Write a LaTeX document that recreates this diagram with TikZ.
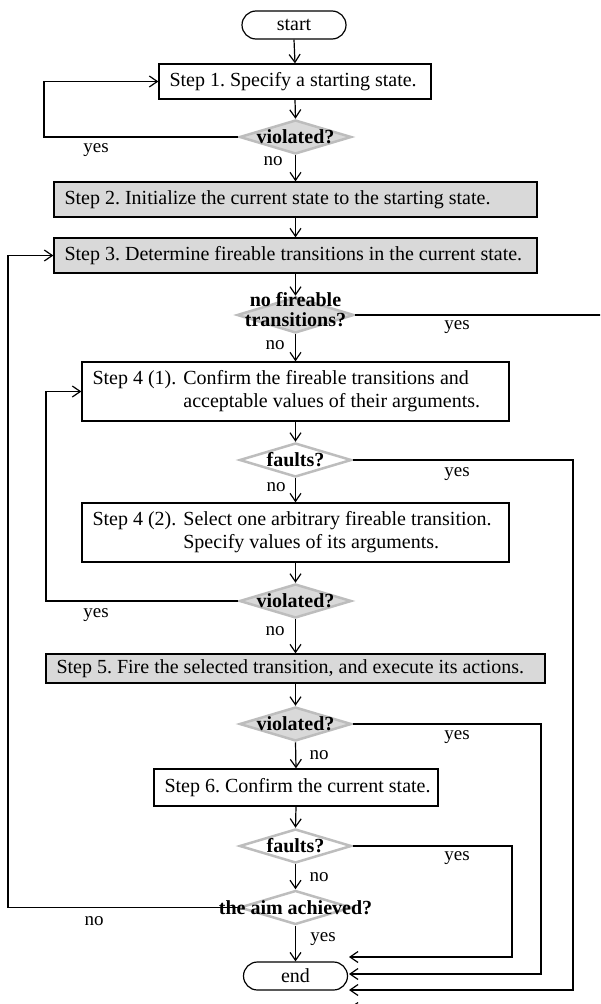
\documentclass[tikz,border=0pt]{standalone}
\usepackage{fontspec}
\setmainfont{Liberation Serif}
\usetikzlibrary{arrows.meta,shapes.geometric,calc}
\definecolor{boxgray}{HTML}{D9D9D9}
\definecolor{edgegray}{HTML}{BDBDBD}
\frenchspacing
\newcommand{\bx}[2]{\makebox[#1][l]{#2}}
\tikzset{
 term/.style={draw, line width=1.2pt, rounded corners=14pt, minimum width=104pt, minimum height=28pt, inner sep=0pt, font=\fontsize{20}{23}\selectfont},
 stepbox/.style={draw, line width=1.3pt, inner xsep=10.5pt, inner ysep=0pt, font=\fontsize{20}{23}\selectfont},
 graybox/.style={stepbox, fill=boxgray},
 dia/.style={diamond, draw=edgegray, line width=2.5pt, minimum width=112pt, minimum height=34pt, inner sep=0pt},
 dgray/.style={dia, fill=boxgray},
 dwhite/.style={dia, fill=white},
 dtext/.style={font=\bfseries\fontsize{20}{23}\selectfont, align=center, inner sep=0pt},
 lab/.style={font=\fontsize{19}{22}\selectfont, inner sep=0pt},
 ln/.style={line width=1.2pt},
 arr/.style={ln, -{Straight Barb[length=8pt,width=11pt]}},
}
\begin{document}
\begin{tikzpicture}[x=1pt,y=-1pt]
\clip (0,0) rectangle (600,1004);
% terminals
\node[term] (start) at (294,25) {start};
\node[term] (endn) at (295.5,976) {end};
% step boxes
\node[stepbox, minimum height=35pt] (s1) at (295,81.5) {\bx{251pt}{Step 1. Specify a starting state.}};
\node[graybox, minimum height=35pt] (s2) at (295.5,199.5) {\bx{462pt}{Step 2. Initialize the current state to the starting state.}};
\node[graybox, minimum height=35pt] (s3) at (295.5,255.5) {\bx{462pt}{Step 3. Determine fireable transitions in the current state.}};
\node[stepbox, minimum height=59pt] (s41) at (295.5,391.5) {\bx{406pt}{\begin{tabular}{@{}l@{\hspace{7pt}}l@{}}Step 4 (1). & Confirm the fireable transitions and\\ & acceptable values of their arguments.\end{tabular}}};
\node[stepbox, minimum height=59pt] (s42) at (295.5,532.5) {\bx{406pt}{\begin{tabular}{@{}l@{\hspace{7pt}}l@{}}Step 4 (2). & Select one arbitrary fireable transition.\\ & Specify values of its arguments.\end{tabular}}};
\node[graybox, minimum height=29pt] (s5) at (295.5,668.5) {\bx{478pt}{Step 5. Fire the selected transition, and execute its actions.}};
\node[stepbox, minimum height=37pt] (s6) at (296,787.5) {\bx{263pt}{Step 6. Confirm the current state.}};
% decisions
\node[dgray] (d1) at (295.5,137) {};
\node[dtext] (d1t) at (d1) {violated?};
\node[dgray, minimum width=117pt, minimum height=36pt] (d2) at (295.5,315) {};
\node[dtext, anchor=base] (d2ta) at (295.5,306) {no fireable};
\node[dtext, anchor=base] (d2tb) at (295.5,326) {transitions?};
\node[dwhite] (d3) at (295.5,460) {};
\node[dtext] (d3t) at (d3) {faults?};
\node[dgray] (d4) at (295.5,601) {};
\node[dtext] (d4t) at (d4) {violated?};
\node[dgray] (d5) at (295.5,724) {};
\node[dtext] (d5t) at (d5) {violated?};
\node[dwhite] (d6) at (295.5,846) {};
\node[dtext] (d6t) at (d6) {faults?};
\node[dwhite] (d7) at (295.5,907.5) {};
\node[dtext] (d7t) at (d7) {the aim achieved?};
% main flow
\draw[arr] (start.south) -- (s1.north);
\draw[arr] (s1.south) -- (d1.north);
\draw[arr] (d1.south) -- (s2.north);
\draw[arr] (s2.south) -- (s3.north);
\draw[arr] (s3.south) -- (d2.north);
\draw[arr] (d2.south) -- (s41.north);
\draw[arr] (s41.south) -- (d3.north);
\draw[arr] (d3.south) -- (s42.north);
\draw[arr] (s42.south) -- (d4.north);
\draw[arr] (d4.south) -- (s5.north);
\draw[arr] (s5.south) -- (d5.north);
\draw[arr] (d5.south) -- (s6.north);
\draw[arr] (s6.south) -- (d6.north);
\draw[arr] (d6.south) -- (d7.north);
\draw[arr] (d7.south) -- (endn.north);
% loops back (left)
\draw[arr] (d1.west) -- (44,137) -- (44,81.5) -- (s1.west);
\draw[arr] (d4.west) -- (46,601) -- (46,391.5) -- (s41.west);
\draw[arr] (d7.west) -- (8,907.5) -- (8,255.5) -- (s3.west);
% exits to end (right)
\coordinate (e0) at (349,1008);
\coordinate (e1) at (349,990);
\coordinate (e2) at (349,974);
\coordinate (e3) at (349,957);
\draw[arr] (d2.east) -- (610,315) -- (610,1008) -- (e0);
\draw[arr] (d3.east) -- (573,460) -- (573,990) -- (e1);
\draw[arr] (d5.east) -- (541,724) -- (541,974) -- (e2);
\draw[arr] (d6.east) -- (512,846) -- (512,957) -- (e3);
% labels
\node[lab] (l1y) at (96,150) {yes};
\node[lab] (l1n) at (273,161) {no};
\node[lab] (l2y) at (457,327) {yes};
\node[lab] (l2n) at (275,345) {no};
\node[lab] (l3y) at (457,474) {yes};
\node[lab] (l3n) at (276,487) {no};
\node[lab] (l4y) at (96,615) {yes};
\node[lab] (l4n) at (275,631) {no};
\node[lab] (l5y) at (457,737) {yes};
\node[lab] (l5n) at (319,755) {no};
\node[lab] (l6y) at (457,858) {yes};
\node[lab] (l6n) at (319,877) {no};
\node[lab] (l7n) at (94,921) {no};
\node[lab] (l7y) at (323,939) {yes};
\end{tikzpicture}
\end{document}
